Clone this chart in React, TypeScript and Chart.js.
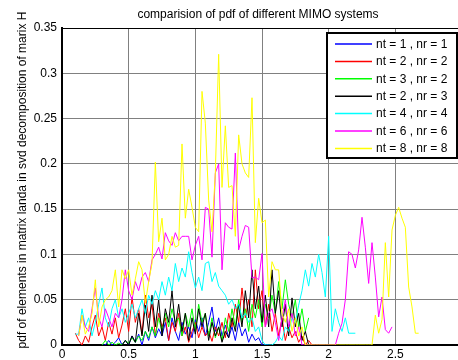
import React, { useEffect, useRef } from "react";
import { Chart, registerables } from "chart.js";

Chart.register(...registerables);

const titleText = "comparision of pdf of different MIMO systems";
const yAxisLabel = "pdf of elements in matrix landa in svd decomposition of marix H";

const xTickValues = [0, 0.5, 1, 1.5, 2, 2.5, 3];
const yTickValues = [0, 0.05, 0.1, 0.15, 0.2, 0.25, 0.3, 0.35];

const sampleStep = 0.025;

const seriesLabels = [
  "nt = 1 , nr = 1",
  "nt = 2 , nr = 2",
  "nt = 3 , nr = 2",
  "nt = 2 , nr = 3",
  "nt = 4 , nr = 4",
  "nt = 6 , nr = 6",
  "nt = 8 , nr = 8",
];
const seriesColors = ["#0000ff", "#ff0000", "#00ff00", "#000000", "#00ffff", "#ff00ff", "#ffff00"];

const blueStart = 0.3;
const blueValues = [0, 0, 0.005, 0, 0.003, 0.008, 0, 0.005, 0, 0.01, 0.003, 0.012, 0, 0.015, 0.005, 0.02, 0.008, 0.018, 0.01, 0.025, 0.005, 0.03, 0.015, 0.005, 0.025, 0.012, 0.02, 0.008, 0.028, 0.015, 0.03, 0.01, 0.025, 0.042, 0.015, 0.03, 0.01, 0.022, 0.008, 0.02, 0.005, 0.025, 0.01, 0.018, 0.003, 0.012, 0.005, 0.008, 0, 0, 0];

const redStart = 0.1;
const redValues = [0.013, 0.005, 0, 0.01, 0.003, 0.02, 0.033, 0.01, 0.02, 0.005, 0.025, 0.012, 0.03, 0.008, 0.022, 0.04, 0.015, 0.053, 0.025, 0.04, 0.012, 0.055, 0.03, 0.045, 0.01, 0.035, 0.02, 0.03, 0.005, 0.025, 0.015, 0.035, 0.01, 0.02, 0.003, 0.015, 0.025, 0.008, 0.02, 0.01, 0.015, 0.004, 0.02, 0.01, 0.025, 0.008, 0.035, 0.02, 0.045, 0.025, 0.063, 0.03, 0.05, 0.02, 0.083, 0.04, 0.06, 0.02, 0.045, 0.015, 0.035, 0.01, 0.03, 0.005, 0.02, 0.008, 0.015, 0.003, 0.01, 0, 0.005, 0];

const greenStart = 0.3;
const greenValues = [0, 0.005, 0, 0.003, 0, 0.002, 0, 0.005, 0.002, 0.008, 0.003, 0.01, 0.005, 0.015, 0.008, 0.02, 0.01, 0.03, 0.015, 0.035, 0.02, 0.04, 0.025, 0.03, 0.01, 0.035, 0.02, 0.04, 0.015, 0.045, 0.025, 0.035, 0.01, 0.03, 0.008, 0.02, 0.005, 0.03, 0.015, 0.04, 0.02, 0.05, 0.025, 0.04, 0.015, 0.045, 0.03, 0.05, 0.02, 0.045, 0.03, 0.055, 0.035, 0.07, 0.04, 0.072, 0.045, 0.03, 0.05, 0.02, 0.04, 0.015, 0.03];

const blackStart = 0.45;
const blackValues = [0, 0.005, 0, 0.01, 0.003, 0.035, 0.01, 0.044, 0.015, 0.055, 0.02, 0.05, 0.01, 0.04, 0.025, 0.06, 0.02, 0.045, 0.015, 0.035, 0.005, 0.03, 0.012, 0.04, 0.02, 0.035, 0.005, 0.025, 0.01, 0.02, 0.003, 0.015, 0.008, 0.03, 0.015, 0.045, 0.02, 0.06, 0.03, 0.083, 0.04, 0.065, 0.025, 0.055, 0.02, 0.083, 0.035, 0.06, 0.02, 0.045, 0.01, 0.052, 0.02, 0.035, 0.005, 0.015, 0];

const cyanStart = 0.1;
const cyanValues = [0.012, 0.012, 0.04, 0.02, 0.03, 0.01, 0.025, 0.045, 0.063, 0.03, 0.02, 0.04, 0.05, 0.03, 0.04, 0.025, 0.035, 0.045, 0.03, 0.04, 0.05, 0.035, 0.055, 0.045, 0.06, 0.05, 0.07, 0.055, 0.075, 0.06, 0.09, 0.07, 0.085, 0.075, 0.103, 0.08, 0.063, 0.075, 0.06, 0.09, 0.092, 0.07, 0.08, 0.065, 0.06, 0.055, 0.045, 0.05, 0.04, 0.045, 0.03, 0.035, 0.025, 0.03, 0.015, 0.02, 0.005, 0, 0, 0, 0.003, 0.01, 0.005, 0.02, 0.015, 0.03, 0.025, 0.044, 0.06, 0.083, 0.065, 0.09, 0.075, 0.1, 0.08, 0.053, 0.12, 0.015, 0.04, 0.025, 0.015, 0.03, 0.013, 0.013, 0.013];

const magentaStart = 0.125;
const magentaValues = [0.01, 0.033, 0.02, 0.015, 0.04, 0.063, 0.03, 0.02, 0.04, 0.03, 0.02, 0.035, 0.03, 0.05, 0.083, 0.06, 0.05, 0.07, 0.06, 0.075, 0.08, 0.07, 0.094, 0.1, 0.108, 0.095, 0.124, 0.115, 0.11, 0.124, 0.115, 0.12, 0.12, 0.12, 0.094, 0.11, 0.12, 0.094, 0.152, 0.15, 0.097, 0.19, 0.2, 0.083, 0.135, 0.13, 0.128, 0.212, 0.105, 0.12, 0.132, 0.13, 0.074, 0.075, 0.072, 0.101, 0.02, 0.035, 0.04, 0.025, 0.005, 0.03, 0.05, 0.02, 0.035, 0.01, 0.02, 0, 0, 0, 0, 0, 0, 0, 0, 0, 0, 0, 0.013, 0.024, 0.05, 0.103, 0.1, 0.085, 0.105, 0.141, 0.108, 0.068, 0.113, 0.075, 0.031, 0.053, 0.017, 0.013, 0.02];

const yellowStart = 0.125;
const yellowValues = [0.01, 0.033, 0.012, 0.02, 0.035, 0.072, 0.02, 0.042, 0.05, 0.053, 0.06, 0.083, 0.042, 0.083, 0.073, 0.083, 0.055, 0.073, 0.092, 0.083, 0.046, 0.07, 0.09, 0.202, 0.114, 0.14, 0.094, 0.1, 0.12, 0.108, 0.11, 0.222, 0.14, 0.172, 0.152, 0.13, 0.125, 0.28, 0.245, 0.16, 0.125, 0.19, 0.321, 0.174, 0.242, 0.174, 0.176, 0.12, 0.232, 0.2, 0.19, 0.185, 0.273, 0.113, 0.162, 0.135, 0.138, 0.053, 0.092, 0.083, 0.083, 0.035, 0.025, 0.04, 0.015, 0.03, 0.01, 0.02, 0, 0, 0, 0, 0, 0, 0, 0, 0, 0, 0, 0, 0, 0, 0, 0, 0, 0, 0, 0, 0, 0.033, 0.013, 0.028, 0.113, 0.053, 0.127, 0.143, 0.152, 0.14, 0.13, 0.064, 0.042, 0.013, 0.013];

const seriesStarts = [blueStart, redStart, greenStart, blackStart, cyanStart, magentaStart, yellowStart];
const seriesValues = [blueValues, redValues, greenValues, blackValues, cyanValues, magentaValues, yellowValues];

const FONT = '"Liberation Sans", Arial, sans-serif';

const overlayPlugin = {
  id: "matlabOverlay",
  afterDraw(chart: any) {
    const ctx = chart.ctx;
    const area = chart.chartArea;
    ctx.save();
    // top frame line
    ctx.strokeStyle = "#000";
    ctx.lineWidth = 1;
    ctx.beginPath();
    ctx.moveTo(area.left, area.top + 0.5);
    ctx.lineTo(area.right, area.top + 0.5);
    ctx.stroke();

    // title
    ctx.fillStyle = "#000";
    ctx.font = `12px ${FONT}`;
    ctx.textAlign = "center";
    ctx.textBaseline = "middle";
    ctx.fillText(titleText, 258, 15);

    // y axis label
    ctx.save();
    ctx.translate(23, 180);
    ctx.rotate(-Math.PI / 2);
    ctx.fillText(yAxisLabel, 0, 0);
    ctx.restore();

    // legend
    const bx = 327, by = 33, bw = 130, bh = 125;
    ctx.fillStyle = "#fff";
    ctx.fillRect(bx, by, bw, bh);
    ctx.strokeStyle = "#000";
    ctx.lineWidth = 2;
    ctx.strokeRect(bx, by, bw, bh);
    ctx.font = `12px ${FONT}`;
    ctx.textAlign = "left";
    ctx.textBaseline = "middle";
    seriesLabels.forEach((lab, i) => {
      const y = 44 + i * 17.4;
      ctx.strokeStyle = seriesColors[i];
      ctx.lineWidth = 1.5;
      ctx.beginPath();
      ctx.moveTo(335, y);
      ctx.lineTo(372, y);
      ctx.stroke();
      ctx.fillStyle = "#000";
      ctx.fillText(lab, 376, y + 0.5);
    });
    ctx.restore();
  },
};

export default function App() {
  const ref = useRef<HTMLCanvasElement | null>(null);

  useEffect(() => {
    if (!ref.current) return;
    const datasets = seriesLabels.map((label, i) => ({
      label,
      data: seriesValues[i].map((y, k) => ({ x: +(seriesStarts[i] + k * sampleStep).toFixed(3), y })),
      borderColor: seriesColors[i],
      backgroundColor: seriesColors[i],
      borderWidth: 1,
      pointRadius: 0,
      tension: 0,
      fill: false,
      order: seriesLabels.length - 1 - i,
    }));
    const chart = new Chart(ref.current, {
      type: "line",
      data: { datasets },
      plugins: [overlayPlugin],
      options: {
        animation: false,
        responsive: false,
        devicePixelRatio: 1,
        layout: { padding: { left: 0, right: 8, top: 28, bottom: 0 } },
        plugins: {
          legend: { display: false },
          title: { display: false },
          tooltip: { enabled: false },
        },
        scales: {
          x: {
            type: "linear",
            min: 0,
            max: 3,
            afterBuildTicks: (scale: any) => {
              scale.ticks = xTickValues.map((v) => ({ value: v }));
            },
            afterFit: (scale: any) => {
              scale.height = 15;
            },
            ticks: {
              color: "#000",
              font: { family: FONT, size: 12 },
              padding: 2,
              maxRotation: 0,
              autoSkip: false,
              callback: (v: any) => String(+Number(v).toFixed(2)),
            },
            grid: { color: "#808080", lineWidth: 1, drawTicks: false },
            border: { display: true, color: "#000", width: 2 },
          },
          y: {
            type: "linear",
            min: 0,
            max: 0.35,
            afterBuildTicks: (scale: any) => {
              scale.ticks = yTickValues.map((v) => ({ value: v }));
            },
            afterFit: (scale: any) => {
              scale.width = 62;
            },
            ticks: {
              color: "#000",
              font: { family: FONT, size: 12 },
              padding: 5,
              autoSkip: false,
              callback: (v: any) => String(+Number(v).toFixed(2)),
            },
            grid: { color: "#808080", lineWidth: 1, drawTicks: false },
            border: { display: true, color: "#000", width: 2 },
          },
        },
      },
    } as any);
    return () => chart.destroy();
  }, []);

  return (
    <div style={{ position: "fixed", left: 0, top: 0, width: 458, height: 360, overflow: "hidden", background: "#fff" }}>
      <canvas ref={ref} width={470} height={360} style={{ position: "absolute", left: 0, top: 0, width: 470, height: 360 }} />
    </div>
  );
}
